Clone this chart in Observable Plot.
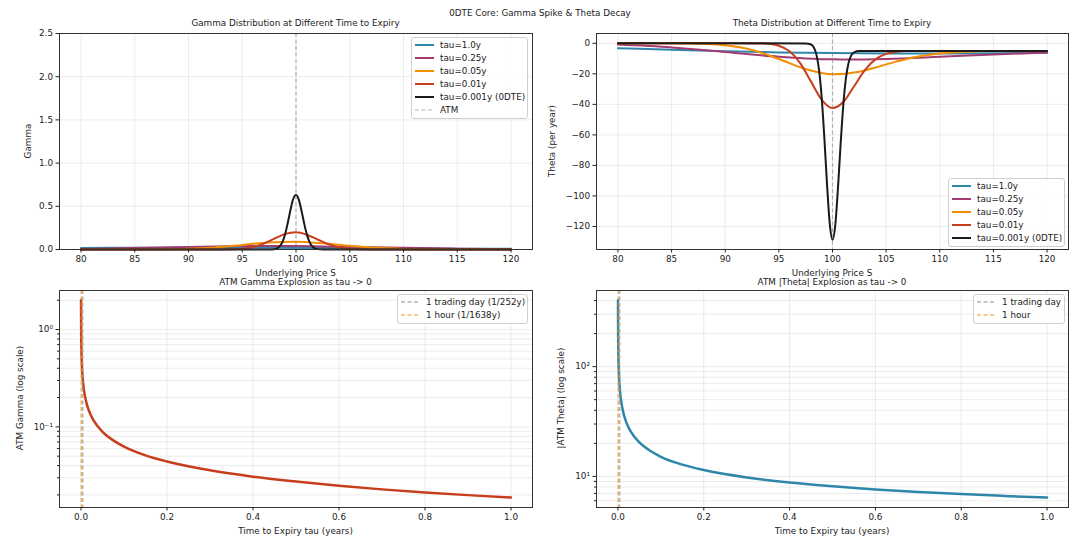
<!DOCTYPE html>
<html>
<head>
<meta charset="utf-8">
<script src="https://cdn.jsdelivr.net/npm/d3@7"></script>
<script src="https://cdn.jsdelivr.net/npm/@observablehq/plot@0.6"></script>
<style>
  html, body { margin: 0; padding: 0; background: #fff; }
  #root { position: relative; width: 1080px; height: 537px; overflow: hidden; background: #fff;
          font-family: 'DejaVu Sans', sans-serif; color: #222; }
  .panel { position: absolute; }
  .t { position: absolute; white-space: nowrap; font-size: 8.8px; transform: translate(-50%, -50%); line-height: 1; }
  .yl { position: absolute; white-space: nowrap; font-size: 8.8px; line-height: 1;
        transform: translate(-50%, -50%) rotate(-90deg); }
  .legend { position: absolute; box-sizing: border-box; border: 1px solid #cfcfcf; border-radius: 3px;
            background: rgba(255,255,255,0.85); padding: 0.5px 0 1px 3px; font-size: 8.8px; }
  .legend .row { height: 13px; display: flex; align-items: center; white-space: nowrap; }
  .legend svg { width: 19px; height: 10px; margin-right: 6px; flex: none; }
</style>
</head>
<body>
<div id="root"></div>
<script>
// ---------------- data ----------------
const seriesNames = ["tau=1.0y", "tau=0.25y", "tau=0.05y", "tau=0.01y", "tau=0.001y (0DTE)"];
const seriesColors = ["#2E86AB", "#A23B72", "#F18F01", "#C73E1D", "#1a1a1a"];

const priceTicks = [80, 85, 90, 95, 100, 105, 110, 115, 120];
const gammaTicks = [0, 0.5, 1.0, 1.5, 2.0, 2.5];
const thetaTicks = [0, -20, -40, -60, -80, -100, -120];
const tauTicks = [0, 0.2, 0.4, 0.6, 0.8, 1.0];
const atmStrike = 100;

// Gamma vs underlying price
const S_t1 = [80, 85, 90, 95, 100, 105, 110, 115, 120];
const gamma_t1 = [0.0186, 0.0211, 0.0218, 0.0209, 0.0188, 0.0159, 0.0129, 0.0100, 0.0075];
const S_t025 = [80, 85, 90, 95, 97.5, 100, 102.5, 105, 110, 115, 120];
const gamma_t025 = [0.0060, 0.0164, 0.0301, 0.0397, 0.0408, 0.0393, 0.0356, 0.0305, 0.0192, 0.0101, 0.0045];
const S_t005 = [80, 85, 87.5, 90, 92.5, 95, 97.5, 100, 102.5, 105, 107.5, 110, 112.5, 115, 120];
const gamma_t005 = [0, 0.0002, 0.0015, 0.0074, 0.0241, 0.0531, 0.0813, 0.0889, 0.0714, 0.0429, 0.0197, 0.0071, 0.0020, 0.0005, 0];
const S_t001 = [80, 90, 93, 94, 95, 96, 97, 98, 99, 100, 101, 102, 103, 104, 105, 106, 107, 110, 120];
const gamma_t001 = [0, 0, 0.0004, 0.0020, 0.0086, 0.0279, 0.0679, 0.1265, 0.1807, 0.1993, 0.1714, 0.1156, 0.0616, 0.0262, 0.0089, 0.0024, 0.0005, 0, 0];
const S_t0001 = [80, 97.5, 98, 98.25, 98.5, 98.75, 99, 99.25, 99.5, 99.75, 100, 100.25, 100.5, 100.75, 101, 101.25, 101.5, 101.75, 102, 102.5, 120];
const gamma_t0001 = [0, 0.0002, 0.0041, 0.0135, 0.0379, 0.0903, 0.1833, 0.3172, 0.4669, 0.5872, 0.6307, 0.5794, 0.4556, 0.3076, 0.1778, 0.0885, 0.0379, 0.0140, 0.0044, 0.0003, 0];

// Theta vs underlying price
const theta_t1 = [-3.18, -4.26, -5.21, -5.95, -6.41, -6.61, -6.62, -6.46, -6.23];
const theta_t025 = [-0.85, -2.67, -5.69, -8.80, -9.88, -10.48, -10.57, -10.25, -8.83, -7.26, -6.09];
const theta_t005 = [0, -0.03, -0.24, -1.25, -4.34, -10.25, -16.94, -20.34, -18.6, -13.8, -9.29, -6.63, -5.49, -5.11, -4.99];
const theta_t001 = [0, 0, -0.07, -0.36, -1.58, -5.25, -13.11, -25.10, -36.99, -42.39, -38.45, -28.26, -17.73, -10.55, -6.92, -5.53, -5.11, -5.00, -5.00];
const theta_t0001 = [0, -0.05, -0.79, -2.62, -7.40, -17.73, -36.21, -63.08, -93.52, -118.59, -128.65, -119.74, -95.96, -66.86, -40.98, -23.03, -12.76, -7.88, -5.91, -5.07, -5.00];

// ATM values vs time to expiry
const tauGrid = [0.0001, 0.0002, 0.0005, 0.001, 0.002, 0.005, 0.01, 0.02, 0.03, 0.05, 0.075, 0.1, 0.15, 0.2, 0.3, 0.4, 0.5, 0.6, 0.7, 0.8, 0.9, 1.0];
const atmGamma = [1.995, 1.411, 0.892, 0.631, 0.446, 0.282, 0.199, 0.141, 0.115, 0.089, 0.0727, 0.0627, 0.0510, 0.0441, 0.0358, 0.0308, 0.0274, 0.0248, 0.0228, 0.0212, 0.0199, 0.0188];
const atmThetaAbs = [401.4, 284.6, 180.9, 128.7, 91.7, 58.9, 42.4, 30.7, 25.6, 20.4, 17.1, 15.1, 12.8, 11.43, 9.79, 8.80, 8.12, 7.61, 7.22, 6.90, 6.64, 6.41];

const markerTaus = [1 / 252, 1 / 1638];
const markerColors = ["#999999", "#F18F01"];
const markerOpacity = [0.75, 0.6];
const gammaLegendMarkers = ["1 trading day (1/252y)", "1 hour (1/1638y)"];
const thetaLegendMarkers = ["1 trading day", "1 hour"];

const gammaMinor = [0.02, 0.03, 0.04, 0.05, 0.06, 0.07, 0.08, 0.09, 0.2, 0.3, 0.4, 0.5, 0.6, 0.7, 0.8, 0.9, 2];
const gammaMajor = [0.1, 1];
const thetaMinor = [6, 7, 8, 9, 20, 30, 40, 50, 60, 70, 80, 90, 200, 300, 400];
const thetaMajor = [10, 100];

// ---------------- helpers ----------------
const FONT = "'DejaVu Sans', sans-serif";
const rows = (xs, ys) => xs.map((x, i) => ({x, y: ys[i]}));
const gammaRows = [rows(S_t1, gamma_t1), rows(S_t025, gamma_t025), rows(S_t005, gamma_t005), rows(S_t001, gamma_t001), rows(S_t0001, gamma_t0001)];
const thetaRows = [rows(S_t1, theta_t1), rows(S_t025, theta_t025), rows(S_t005, theta_t005), rows(S_t001, theta_t001), rows(S_t0001, theta_t0001)];
const supers = {"-2": "10⁻²", "-1": "10⁻¹", "0": "10⁰", "1": "10¹", "2": "10²"};
const logFmt = d => supers[String(Math.round(Math.log10(d)))];
const minusFmt = d => (d < 0 ? "\u2212" + Math.abs(d) : String(d));

const gridStyle = {stroke: "#b0b0b0", strokeOpacity: 0.3, strokeWidth: 0.8};
const axisStyle = {tickSize: 3.5, tickPadding: 3, label: null};
const baseStyle = {fontFamily: FONT, fontSize: "8.8px", overflow: "visible", background: "transparent", color: "#222"};

const root = document.getElementById("root");
function place(el, left, top) {
  const d = document.createElement("div");
  d.className = "panel";
  d.style.left = left + "px";
  d.style.top = top + "px";
  d.appendChild(el);
  root.appendChild(d);
}
function text(cls, str, x, y) {
  const d = document.createElement("div");
  d.className = cls;
  d.textContent = str;
  d.style.left = x + "px";
  d.style.top = y + "px";
  root.appendChild(d);
}
function legend(items, left, top, width) {
  const box = document.createElement("div");
  box.className = "legend";
  box.style.left = left + "px";
  box.style.top = top + "px";
  box.style.width = width + "px";
  for (const it of items) {
    const r = document.createElement("div");
    r.className = "row";
    const dash = it.dash ? `stroke-dasharray="${it.dash}"` : "";
    r.innerHTML = `<svg viewBox="0 0 19 10"><line x1="0" x2="19" y1="5" y2="5" stroke="${it.color}" stroke-opacity="${it.opacity ?? 1}" stroke-width="${it.width}" ${dash}/></svg><span>${it.label}</span>`;
    box.appendChild(r);
  }
  root.appendChild(box);
}

// ---------------- panel 1: gamma distribution ----------------
const p1 = Plot.plot({
  width: 540, height: 270, marginLeft: 59, marginRight: 8, marginTop: 33, marginBottom: 21,
  style: baseStyle,
  x: {domain: [78, 122]},
  y: {domain: [0, 2.5]},
  marks: [
    Plot.gridX({ticks: priceTicks, ...gridStyle}),
    Plot.gridY({ticks: gammaTicks, ...gridStyle}),
    ...gammaRows.map((r, i) => Plot.line(r, {x: "x", y: "y", stroke: seriesColors[i], strokeWidth: 2, curve: "monotone-x"})),
    Plot.ruleX([atmStrike], {stroke: "#888", strokeOpacity: 0.6, strokeWidth: 1.2, strokeDasharray: "4,2.5"}),
    Plot.frame({stroke: "#333", strokeWidth: 1}),
    Plot.axisX({ticks: priceTicks, ...axisStyle}),
    Plot.axisY({ticks: gammaTicks, tickFormat: d3.format(".1f"), ...axisStyle})
  ]
});
place(p1, 0, 0);

// ---------------- panel 2: theta distribution ----------------
const p2 = Plot.plot({
  width: 540, height: 270, marginLeft: 56, marginRight: 12, marginTop: 33, marginBottom: 21,
  style: baseStyle,
  x: {domain: [78, 122]},
  y: {domain: [-135.1, 6.43]},
  marks: [
    Plot.gridX({ticks: priceTicks, ...gridStyle}),
    Plot.gridY({ticks: thetaTicks, ...gridStyle}),
    ...thetaRows.map((r, i) => Plot.line(r, {x: "x", y: "y", stroke: seriesColors[i], strokeWidth: 2, curve: "monotone-x"})),
    Plot.ruleX([atmStrike], {stroke: "#888", strokeOpacity: 0.6, strokeWidth: 1.2, strokeDasharray: "4,2.5"}),
    Plot.frame({stroke: "#333", strokeWidth: 1}),
    Plot.axisX({ticks: priceTicks, ...axisStyle}),
    Plot.axisY({ticks: thetaTicks, tickFormat: minusFmt, ...axisStyle})
  ]
});
place(p2, 540, 0);

// ---------------- panel 3: ATM gamma vs tau ----------------
const p3 = Plot.plot({
  width: 540, height: 267, marginLeft: 59, marginRight: 8, marginTop: 20, marginBottom: 30,
  style: baseStyle,
  x: {domain: [-0.05, 1.05]},
  y: {type: "log", domain: [0.01485, 2.518]},
  marks: [
    Plot.gridX({ticks: tauTicks, ...gridStyle}),
    Plot.gridY({ticks: gammaMinor, ...gridStyle}),
    Plot.gridY({ticks: gammaMajor, ...gridStyle}),
    Plot.line(rows(tauGrid, atmGamma), {x: "x", y: "y", stroke: seriesColors[3], strokeWidth: 2.5, curve: "monotone-x"}),
    ...markerTaus.map((t, i) => Plot.ruleX([t], {stroke: markerColors[i], strokeOpacity: markerOpacity[i], strokeWidth: 1.5, strokeDasharray: "4,2.5"})),
    Plot.frame({stroke: "#333", strokeWidth: 1}),
    Plot.axisX({ticks: tauTicks, tickFormat: d3.format(".1f"), ...axisStyle}),
    Plot.axisY({ticks: gammaMinor, tickSize: 2, tickFormat: () => "", label: null}),
    Plot.axisY({ticks: gammaMajor, tickFormat: logFmt, ...axisStyle})
  ]
});
place(p3, 0, 270);

// ---------------- panel 4: ATM |theta| vs tau ----------------
const p4 = Plot.plot({
  width: 540, height: 267, marginLeft: 56, marginRight: 12, marginTop: 20, marginBottom: 30,
  style: baseStyle,
  x: {domain: [-0.05, 1.05]},
  y: {type: "log", domain: [5.21, 493.5]},
  marks: [
    Plot.gridX({ticks: tauTicks, ...gridStyle}),
    Plot.gridY({ticks: thetaMinor, ...gridStyle}),
    Plot.gridY({ticks: thetaMajor, ...gridStyle}),
    Plot.line(rows(tauGrid, atmThetaAbs), {x: "x", y: "y", stroke: seriesColors[0], strokeWidth: 2.5, curve: "monotone-x"}),
    ...markerTaus.map((t, i) => Plot.ruleX([t], {stroke: markerColors[i], strokeOpacity: markerOpacity[i], strokeWidth: 1.5, strokeDasharray: "4,2.5"})),
    Plot.frame({stroke: "#333", strokeWidth: 1}),
    Plot.axisX({ticks: tauTicks, tickFormat: d3.format(".1f"), ...axisStyle}),
    Plot.axisY({ticks: thetaMinor, tickSize: 2, tickFormat: () => "", label: null}),
    Plot.axisY({ticks: thetaMajor, tickFormat: logFmt, ...axisStyle})
  ]
});
place(p4, 540, 270);

// ---------------- titles & labels ----------------
text("t", "0DTE Core: Gamma Spike & Theta Decay", 540, 13);
text("t", "Gamma Distribution at Different Time to Expiry", 295.5, 23);
text("t", "Theta Distribution at Different Time to Expiry", 832, 23);
text("t", "Underlying Price S", 295.5, 273);
text("t", "Underlying Price S", 832, 273);
text("t", "ATM Gamma Explosion as tau -> 0", 295.5, 281.5);
text("t", "ATM |Theta| Explosion as tau -> 0", 832, 281.5);
text("t", "Time to Expiry tau (years)", 295.5, 531);
text("t", "Time to Expiry tau (years)", 832, 531);
text("yl", "Gamma", 28, 141);
text("yl", "Theta (per year)", 552, 141);
text("yl", "ATM Gamma (log scale)", 20, 398);
text("yl", "|ATM Theta| (log scale)", 561, 398);

// ---------------- legends ----------------
legend([
  ...seriesNames.map((n, i) => ({label: n, color: seriesColors[i], width: 2})),
  {label: "ATM", color: "#888", opacity: 0.6, width: 1.2, dash: "4,2.5"}
], 411, 37, 117);
legend(seriesNames.map((n, i) => ({label: n, color: seriesColors[i], width: 2})), 948, 178, 117);
legend(gammaLegendMarkers.map((n, i) => ({label: n, color: markerColors[i], opacity: markerOpacity[i], width: 1.5, dash: "4,2.5"})), 397, 294, 131);
legend(thetaLegendMarkers.map((n, i) => ({label: n, color: markerColors[i], opacity: markerOpacity[i], width: 1.5, dash: "4,2.5"})), 973, 294, 92);
</script>
</body>
</html>
